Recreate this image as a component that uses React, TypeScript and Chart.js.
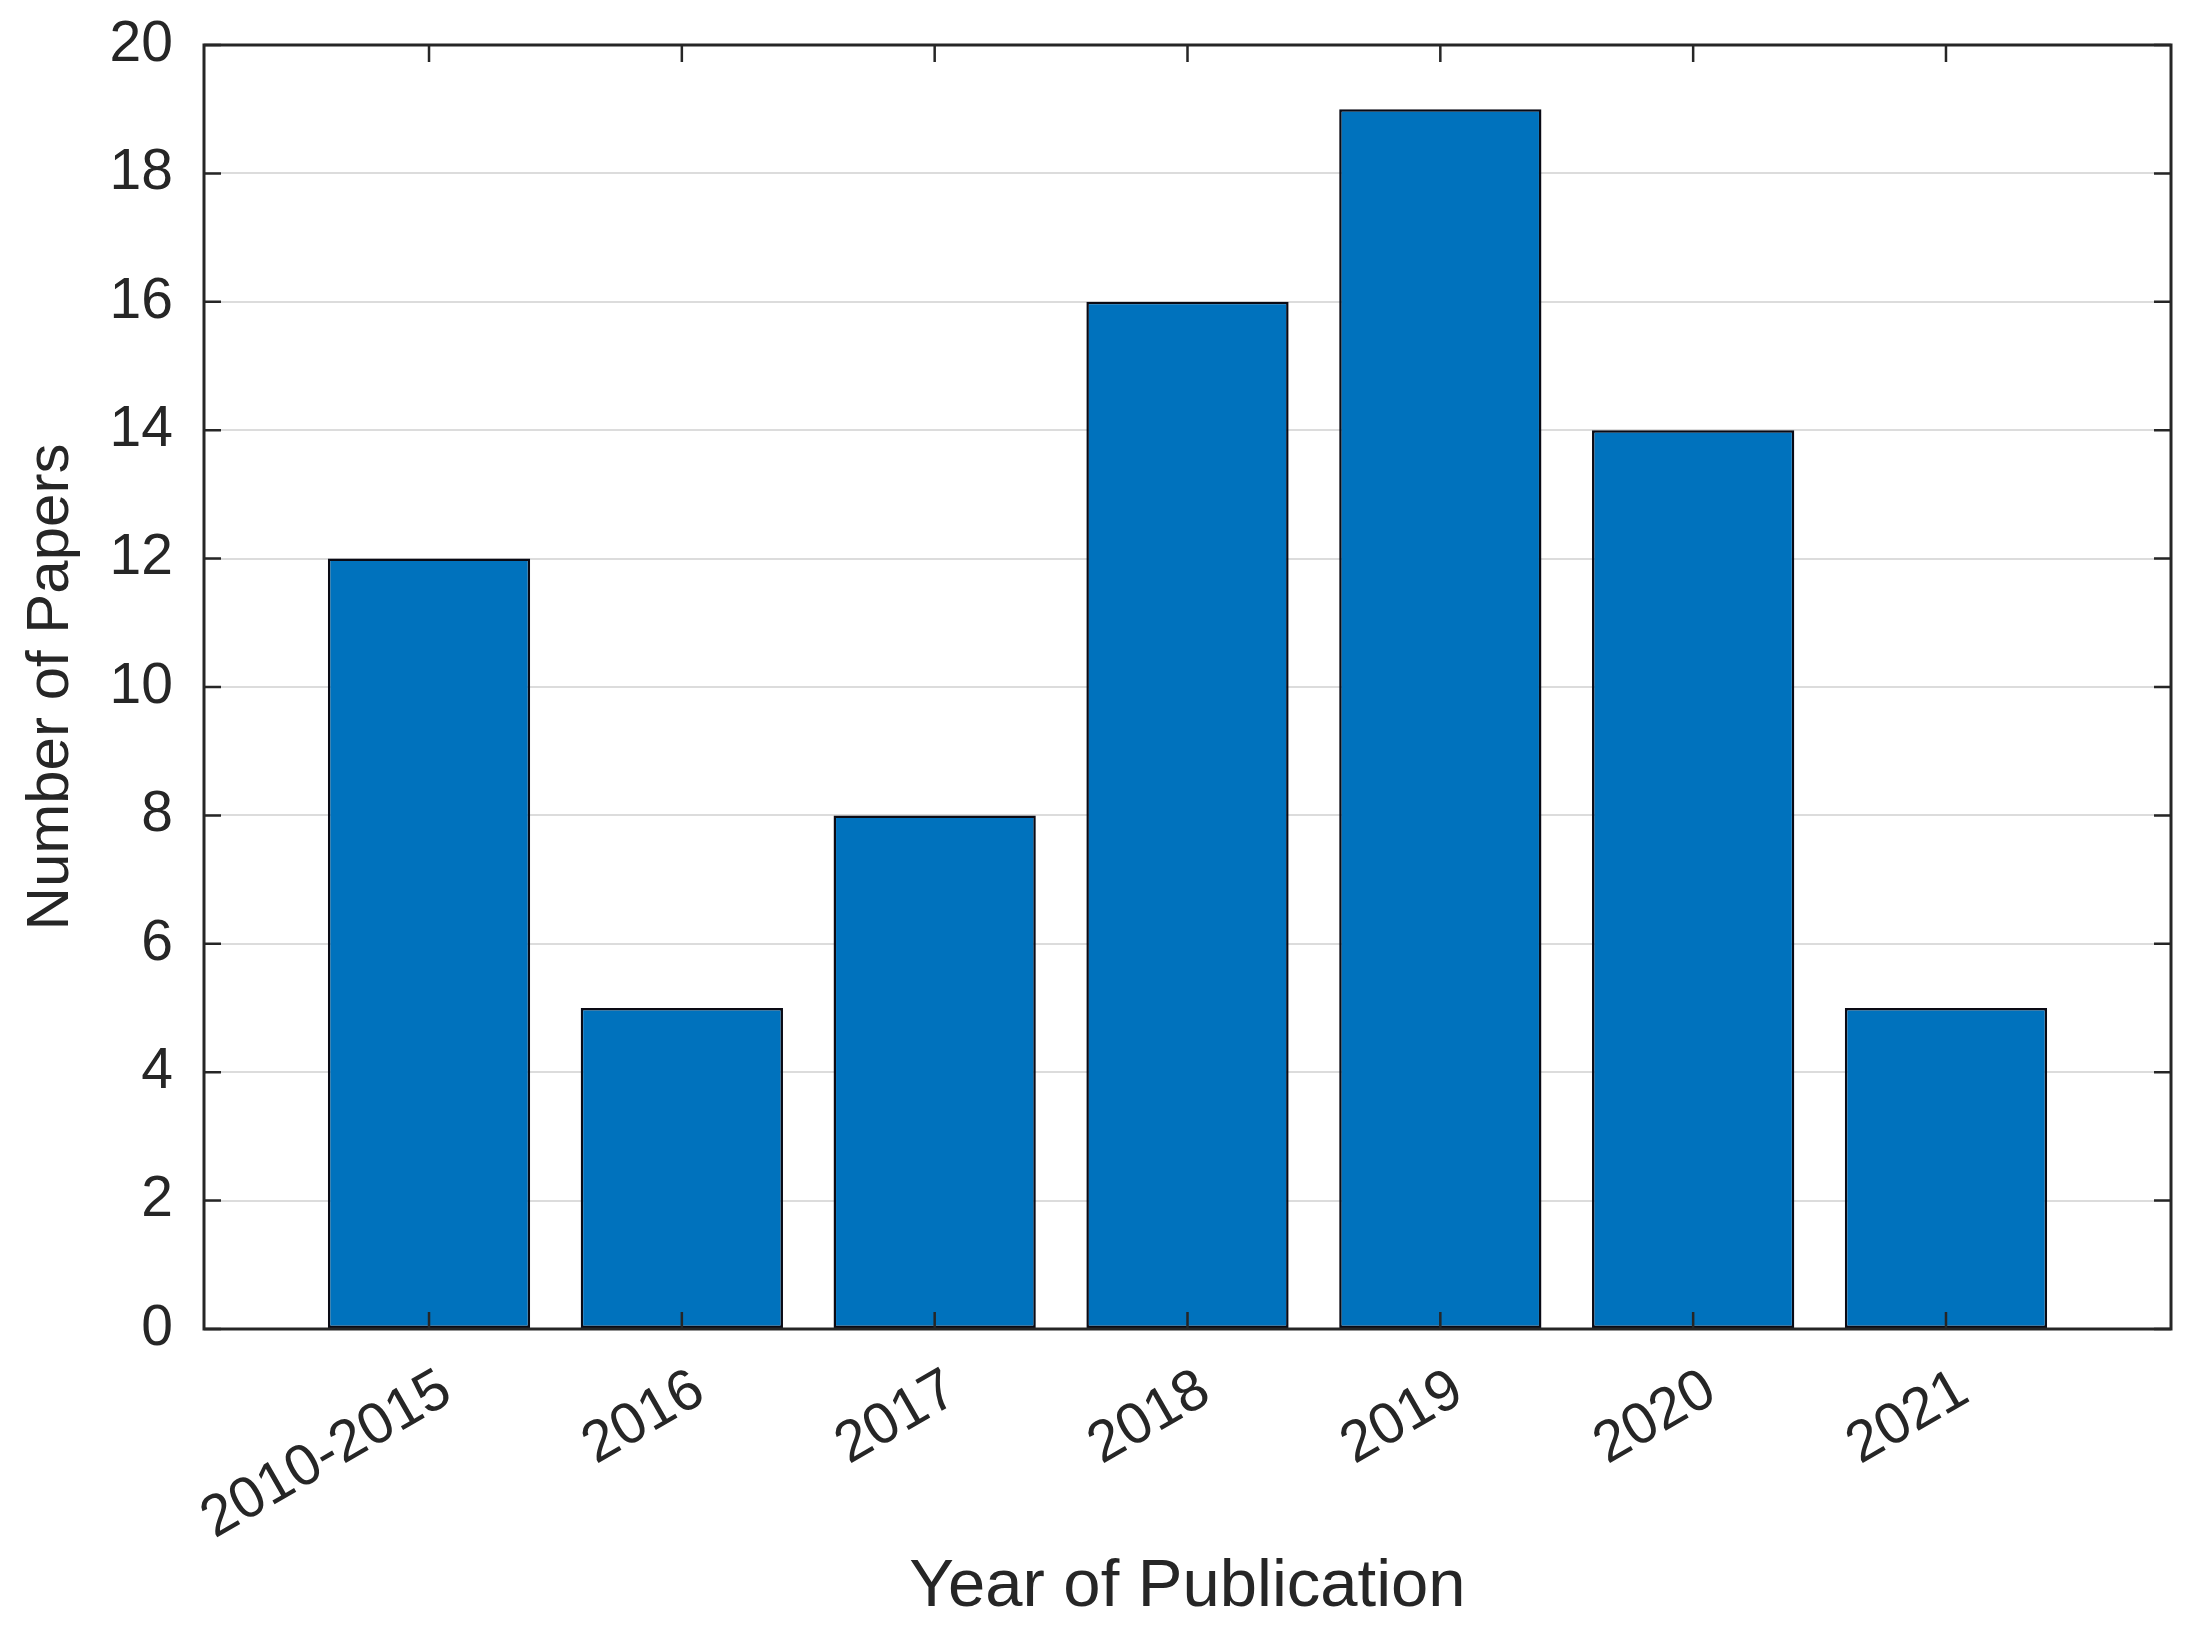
import React, { useEffect, useRef } from 'react';
import { Chart, registerables } from 'chart.js';

Chart.register(...registerables);

// ---- data ----
const categories = ['2010-2015', '2016', '2017', '2018', '2019', '2020', '2021'];
const paperCounts = [12, 5, 8, 16, 19, 14, 5];
const yTickValues = [0, 2, 4, 6, 8, 10, 12, 14, 16, 18, 20];
const xAxisTitle = 'Year of Publication';
const yAxisTitle = 'Number of Papers';

// ---- styling ----
const W = 2195;
const H = 1637;
const FONT = '"Liberation Sans", Arial, Helvetica, sans-serif';
const INK = '#262626';
const BAR = '#0072BD';
const TICK_LEN = 17;

export default function App() {
  const ref = useRef<HTMLCanvasElement>(null);

  useEffect(() => {
    document.body.style.margin = '0';
    const canvas = ref.current;
    if (!canvas) return;

    const framePlugin = {
      id: 'matlabFrame',
      afterDatasetsDraw(chart: any) {
        const { ctx, chartArea } = chart;
        const { left, right, top, bottom } = chartArea;
        const xs = chart.scales.x;
        const ys = chart.scales.y;
        ctx.save();
        ctx.strokeStyle = INK;
        ctx.lineWidth = 2.5;
        ctx.beginPath();
        ys.ticks.forEach((t: any) => {
          const py = ys.getPixelForValue(t.value);
          ctx.moveTo(left, py);
          ctx.lineTo(left + TICK_LEN, py);
          ctx.moveTo(right, py);
          ctx.lineTo(right - TICK_LEN, py);
        });
        xs.ticks.forEach((t: any) => {
          const px = xs.getPixelForValue(t.value);
          ctx.moveTo(px, bottom);
          ctx.lineTo(px, bottom - TICK_LEN);
          ctx.moveTo(px, top);
          ctx.lineTo(px, top + TICK_LEN);
        });
        ctx.stroke();
        ctx.lineWidth = 3;
        ctx.strokeRect(left, top, right - left, bottom - top);
        ctx.restore();
      },
    };

    const chart = new Chart(canvas, {
      type: 'bar',
      data: {
        datasets: [
          {
            data: paperCounts.map((v, i) => ({ x: i + 1, y: v })),
            backgroundColor: BAR,
            borderColor: '#0a0a14',
            borderWidth: 2.5,
            borderSkipped: false,
            barPercentage: 0.8,
            categoryPercentage: 1,
          } as any,
        ],
      },
      options: {
        responsive: false,
        animation: false,
        devicePixelRatio: 1,
        layout: { padding: { left: 0, top: 45, right: 24, bottom: 0 } },
        plugins: {
          legend: { display: false },
          tooltip: { enabled: false },
        },
        scales: {
          x: {
            type: 'linear',
            offset: false,
            min: 0.11,
            max: 7.89,
            grid: { display: false, drawTicks: false, offset: false },
            border: { display: false },
            afterBuildTicks: (s: any) => {
              s.ticks = categories.map((_, i) => ({ value: i + 1 }));
            },
            afterFit: (s: any) => {
              s.height = H - 1329;
              s.paddingLeft = 0;
              s.paddingRight = 0;
              s.paddingTop = 0;
              s.paddingBottom = 0;
            },
            ticks: {
              autoSkip: false,
              minRotation: 30,
              maxRotation: 30,
              padding: 27,
              labelOffset: 18,
              color: INK,
              font: { family: FONT, size: 58 },
              callback: (v: any) => categories[Number(v) - 1] ?? '',
            },
            title: {
              display: true,
              text: xAxisTitle,
              color: INK,
              font: { family: FONT, size: 67 },
              padding: { top: 0, bottom: 9 },
            },
          } as any,
          y: {
            min: 0,
            max: 20,
            afterBuildTicks: (s: any) => {
              s.ticks = yTickValues.map((v) => ({ value: v }));
            },
            afterFit: (s: any) => {
              s.width = 204;
              s.paddingLeft = 0;
              s.paddingRight = 0;
              s.paddingTop = 0;
              s.paddingBottom = 0;
            },
            grid: { color: '#dcdcdc', lineWidth: 2, drawTicks: false },
            border: { display: false },
            ticks: {
              padding: 31,
              color: INK,
              font: { family: FONT, size: 57 },
            },
            title: {
              display: true,
              text: yAxisTitle,
              color: INK,
              font: { family: FONT, size: 60 },
              padding: { top: 15, bottom: 0 },
            },
          } as any,
        },
      },
      plugins: [framePlugin],
    });

    return () => chart.destroy();
  }, []);

  return (
    <canvas
      ref={ref}
      width={W}
      height={H}
      style={{ display: 'block', width: W + 'px', height: H + 'px' }}
    />
  );
}
